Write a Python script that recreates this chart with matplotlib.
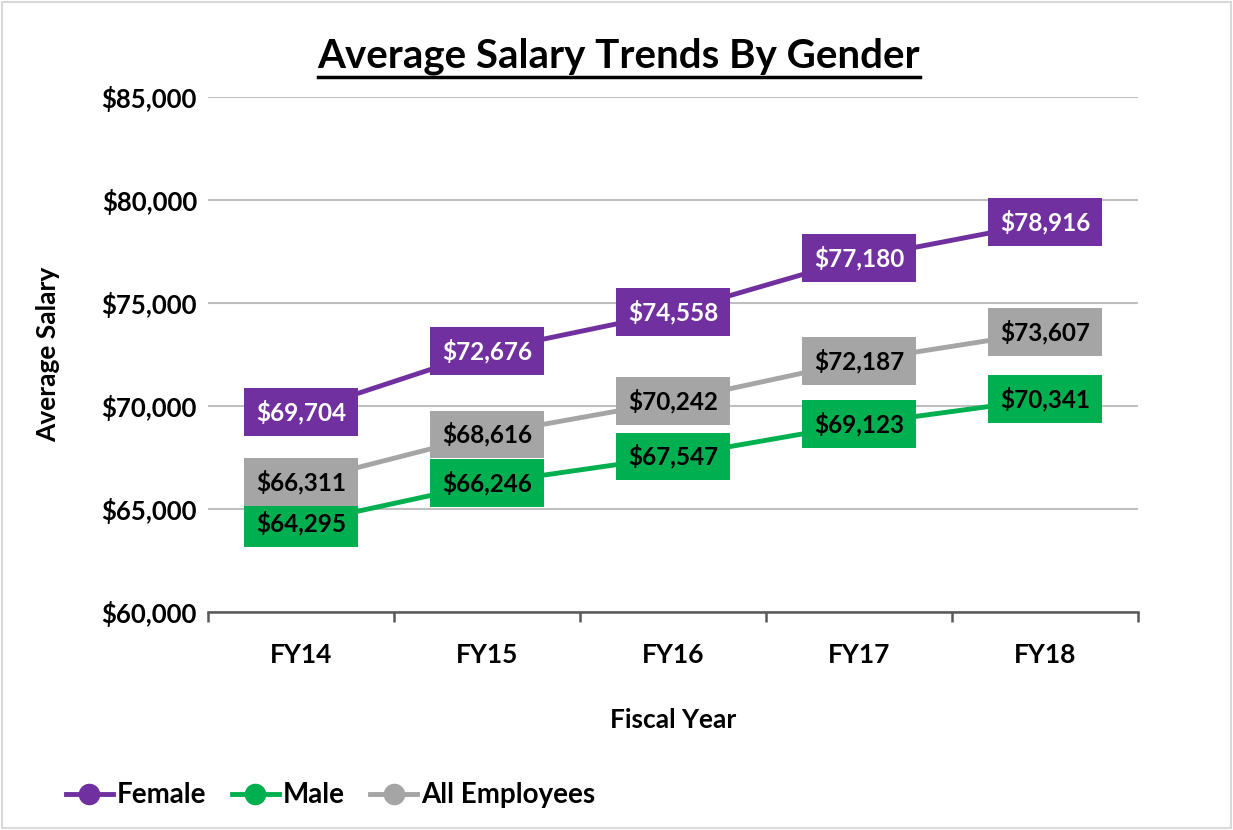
import matplotlib.pyplot as plt
from matplotlib.lines import Line2D
from matplotlib.ticker import FuncFormatter, FixedLocator

plt.rcParams['font.family'] = ['Lato', 'DejaVu Sans']
plt.rcParams['font.weight'] = 'bold'

# Datos
anios = ['FY14', 'FY15', 'FY16', 'FY17', 'FY18']
female = [69704, 72676, 74558, 77180, 78916]
male = [64295, 66246, 67547, 69123, 70341]
all_emp = [66311, 68616, 70242, 72187, 73607]

series = [
    ('Female', female, '#7030A0', 'white'),
    ('Male', male, '#00B050', 'black'),
    ('All Employees', all_emp, '#A5A5A5', 'black'),
]

fig = plt.figure(figsize=(12.33, 8.3), dpi=100)
ax = fig.add_axes([0.1687, 0.2627, 0.7543, 0.6204])

x = range(len(anios))
for nombre, valores, color, color_txt in series:
    ax.plot(x, valores, color=color, lw=3.5, marker='o', ms=29, label=nombre, zorder=3)
    for xi, v in zip(x, valores):
        ax.annotate(f'${v:,}', (xi, v), ha='center', va='center', fontsize=17.5,
                    fontweight='bold', color=color_txt, zorder=5,
                    bbox=dict(boxstyle='square,pad=0.48', fc=color, ec='none'))

ax.set_xlim(-0.5, 4.5)
ax.set_ylim(60000, 85000)
ax.set_yticks(range(60000, 85001, 5000))
ax.yaxis.set_major_formatter(FuncFormatter(lambda v, p: f'${v:,.0f}'))
ax.set_xticks(list(x))
ax.set_xticklabels(anios)
ax.xaxis.set_minor_locator(FixedLocator([i - 0.5 for i in range(6)]))
ax.tick_params(axis='x', which='major', length=0, pad=22, labelsize=19)
ax.tick_params(axis='x', which='minor', length=7, width=1.8, color='#595959', direction='out')
ax.tick_params(axis='y', length=0, pad=8, labelsize=18.5)
ax.grid(axis='y', color='#BFBFBF', lw=1.5, zorder=0)
ax.set_axisbelow(True)
for lado in ['top', 'right', 'left']:
    ax.spines[lado].set_visible(False)
ax.spines['bottom'].set_color('#595959')
ax.spines['bottom'].set_linewidth(1.8)

ax.set_ylabel('Average Salary', fontsize=19, fontweight='bold', labelpad=30)
ax.set_xlabel('Fiscal Year', fontsize=19, fontweight='bold', labelpad=30)

# Titulo subrayado
titulo = fig.text(0.502, 0.91, 'Average Salary Trends By Gender', ha='center', va='bottom',
                  fontsize=29, fontweight='bold')
fig.canvas.draw()
bb = titulo.get_window_extent().transformed(fig.transFigure.inverted())
fig.add_artist(Line2D([bb.x0, bb.x1], [bb.y0 - 0.003, bb.y0 - 0.003], color='black', lw=2.5))

fig.legend(loc='lower left', bbox_to_anchor=(0.033, -0.004), ncol=3, frameon=False,
           fontsize=20, handlelength=1.7, handletextpad=0.15, columnspacing=0.9,
           markerscale=0.5)

# Marco gris de la figura
fig.add_artist(plt.Rectangle((0.002, 0.002), 0.996, 0.996, fill=False, ec='#D9D9D9', lw=1.5,
                             transform=fig.transFigure))

plt.savefig('out.png', dpi=100)
